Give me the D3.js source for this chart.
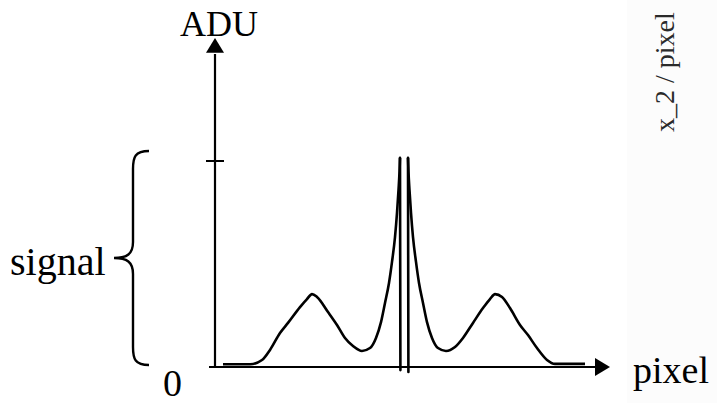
<!DOCTYPE html>
<html><head><meta charset="utf-8">
<script src="https://cdn.jsdelivr.net/npm/d3@7"></script>
<style>html,body{margin:0;padding:0;background:#fff;}svg{display:block;}</style>
</head><body><svg id="c" width="717" height="403"></svg>
<script>
// Left half of the profile (pixel position, ADU normalised to signal = 1)
const leftX = [8, 35, 47, 55, 65, 73, 85, 92, 97, 102, 113, 122, 130, 138, 147, 155, 161, 166, 170, 174, 177, 180, 182, 183.5, 184.5, 185];
const leftY = [0.013, 0.013, 0.034, 0.083, 0.165, 0.214, 0.291, 0.330, 0.354, 0.340, 0.267, 0.204, 0.141, 0.102, 0.078, 0.092, 0.141, 0.218, 0.311, 0.408, 0.510, 0.631, 0.748, 0.859, 0.947, 1.015];
// Right half of the profile
const rightX = [193, 193.5, 194.5, 196, 198, 201, 204, 208, 212, 217, 223, 231, 240, 248, 258, 268, 275, 280, 287, 295, 305, 313, 322, 332, 340, 370];
const rightY = [1.015, 0.947, 0.859, 0.748, 0.631, 0.510, 0.408, 0.311, 0.218, 0.141, 0.092, 0.078, 0.097, 0.141, 0.214, 0.286, 0.330, 0.354, 0.340, 0.286, 0.204, 0.155, 0.092, 0.034, 0.015, 0.015];
// Central spikes (x, top, bottom)
const spikeX = [185, 193];
const spikeTop = [1.015, 1.015];
const spikeBottom = [-0.015, -0.024];
// Axis ticks / labels
const yTickValues = [1];
const yAxisLabel = "ADU";
const xAxisLabel = "pixel";
const zeroLabel = "0";
const braceLabel = "signal";
const sideLabel = "x_2 / pixel";

const svg = d3.select("#c");
svg.append("rect").attr("x",627).attr("y",0).attr("width",90).attr("height",403).attr("fill","#fcfcfc");

const x = d3.scaleLinear().domain([0, 400]).range([215, 615]);
const y = d3.scaleLinear().domain([0, 1]).range([367, 161]);

const ink = "#000";
// x axis
svg.append("line").attr("x1", x(-6)).attr("x2", x(382)).attr("y1", y(0)).attr("y2", y(0))
  .attr("stroke", ink).attr("stroke-width", 2.2);
svg.append("path").attr("d", d3.line()([[x(395), y(0)], [x(380), y(0)-9], [x(380), y(0)+9]]) + "Z").attr("fill", ink);
// y axis
svg.append("line").attr("x1", x(0)).attr("x2", x(0)).attr("y1", y(0)+1).attr("y2", y(1.52))
  .attr("stroke", ink).attr("stroke-width", 2.2);
svg.append("path").attr("d", d3.line()([[x(0), y(1.597)], [x(0)-9, y(1.525)], [x(0)+9, y(1.525)]]) + "Z").attr("fill", ink);
// tick
yTickValues.forEach(v => {
  svg.append("line").attr("x1", x(-9)).attr("x2", x(9)).attr("y1", y(v)).attr("y2", y(v))
    .attr("stroke", ink).attr("stroke-width", 2);
});

const line = d3.line().x(d => x(d[0])).y(d => y(d[1])).curve(d3.curveMonotoneX);
svg.append("path").attr("d", line(d3.zip(leftX, leftY))).attr("fill","none").attr("stroke",ink).attr("stroke-width",2.6).attr("stroke-linejoin","round");
svg.append("path").attr("d", line(d3.zip(rightX, rightY))).attr("fill","none").attr("stroke",ink).attr("stroke-width",2.6).attr("stroke-linejoin","round");
spikeX.forEach((sx, i) => {
  svg.append("line").attr("x1", x(sx)).attr("x2", x(sx + 0.4)).attr("y1", y(spikeTop[i])).attr("y2", y(spikeBottom[i]))
    .attr("stroke", ink).attr("stroke-width", 2.6).attr("stroke-linecap","round");
});

// brace
const bt = 151, bb = 365, bm = 258, bx = 133, btip = 114, bend = 149;
const brace = d3.path();
brace.moveTo(bend, bt);
brace.bezierCurveTo(bx + 2, bt, bx, bt + 6, bx, bt + 18);
brace.lineTo(bx, bm - 16);
brace.bezierCurveTo(bx, bm - 4, bx - 6, bm, btip, bm);
brace.bezierCurveTo(bx - 6, bm, bx, bm + 4, bx, bm + 16);
brace.lineTo(bx, bb - 18);
brace.bezierCurveTo(bx, bb - 6, bx + 2, bb, bend, bb);
svg.append("path").attr("d", brace.toString()).attr("fill","none").attr("stroke",ink).attr("stroke-width",2.4);

const font = "'Liberation Serif','Times New Roman',serif";
svg.append("text").attr("x", 180).attr("y", 36).attr("font-family", font).attr("font-size", 36).text(yAxisLabel);
svg.append("text").attr("x", 10).attr("y", 275).attr("font-family", font).attr("font-size", 40).text(braceLabel);
svg.append("text").attr("x", 633).attr("y", 383).attr("font-family", font).attr("font-size", 38).text(xAxisLabel);
svg.append("text").attr("x", 163).attr("y", 396).attr("font-family", font).attr("font-size", 38).text(zeroLabel);
svg.append("text").attr("transform", "translate(674,132) rotate(-90)").attr("font-family", font).attr("font-size", 28)
  .attr("fill", "#2a2a2a").text(sideLabel);
</script></body></html>
